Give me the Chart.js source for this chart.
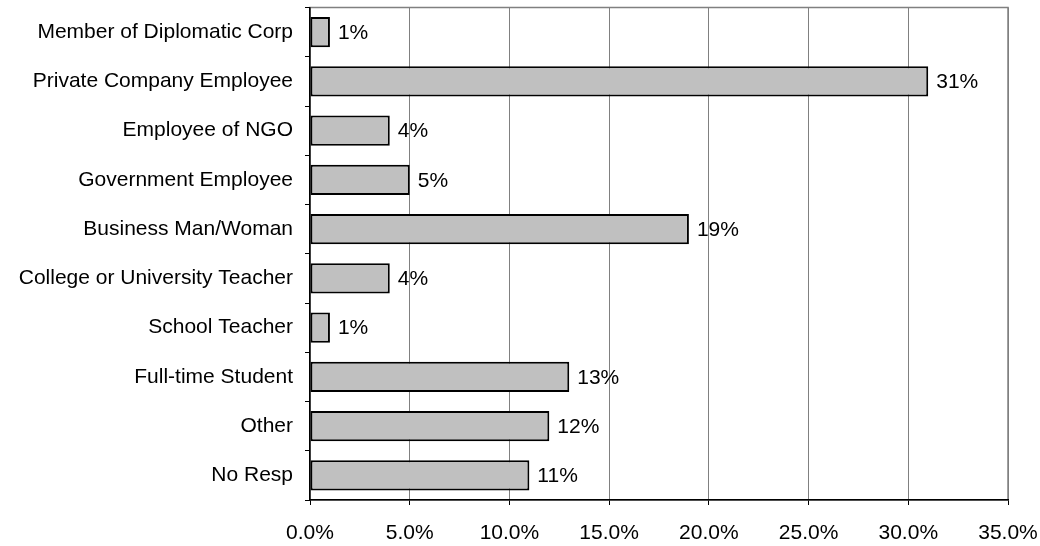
<!DOCTYPE html>
<html>
<head>
<meta charset="utf-8">
<title>Occupation</title>
<script src="https://cdn.jsdelivr.net/npm/chart.js@4"></script>
<style>
    html, body { margin: 0; padding: 0; background: #fff; }
    #wrap { width: 1040px; height: 546px; }
</style>
</head>
<body>
<div id="wrap"><canvas id="occChart" width="1040" height="546"></canvas></div>
<script>
// Chart data
const categories = [
    'Member of Diplomatic Corp',
    'Private Company Employee',
    'Employee of NGO',
    'Government Employee',
    'Business Man/Woman',
    'College or University Teacher',
    'School Teacher',
    'Full-time Student',
    'Other',
    'No Resp'
];
const shares = [1, 31, 4, 5, 19, 4, 1, 13, 12, 11];
const tickLabels = ['0.0%', '5.0%', '10.0%', '15.0%', '20.0%', '25.0%', '30.0%', '35.0%'];

const FONT = "'Liberation Sans', Arial, sans-serif";

// Gray frame round the plot area (top and right edges show)
const frame = {
    id: 'frame',
    beforeDraw(chart) {
        const { ctx, chartArea: a } = chart;
        ctx.save();
        ctx.strokeStyle = '#808080';
        ctx.lineWidth = 1.5;
        ctx.strokeRect(a.left, a.top, a.right - a.left, a.bottom - a.top);
        ctx.restore();
    }
};

// Value labels at bar ends
const valueLabels = {
    id: 'valueLabels',
    afterDatasetsDraw(chart) {
        const { ctx } = chart;
        const meta = chart.getDatasetMeta(0);
        ctx.save();
        ctx.font = '21px ' + FONT;
        ctx.fillStyle = '#000';
        ctx.textAlign = 'left';
        ctx.textBaseline = 'middle';
        meta.data.forEach((bar, i) => {
            ctx.fillText(shares[i] + '%', bar.x + 8, bar.y + 1);
        });
        ctx.restore();
    }
};

new Chart(document.getElementById('occChart').getContext('2d'), {
    type: 'bar',
    data: {
        labels: categories,
        datasets: [{
            data: shares,
            backgroundColor: '#c0c0c0',
            borderColor: '#000',
            borderWidth: 2,
            borderSkipped: false,
            barPercentage: 0.61,
            categoryPercentage: 1
        }]
    },
    options: {
        indexAxis: 'y',
        responsive: false,
        animation: false,
        layout: { padding: { top: 7.5, right: 32, left: 0, bottom: 0 } },
        plugins: {
            legend: { display: false },
            tooltip: { enabled: false }
        },
        scales: {
            x: {
                min: 0,
                max: 35,
                afterFit(scale) {
                    scale.height = 46;
                    scale.paddingLeft = 0;
                    scale.paddingRight = 0;
                },
                ticks: {
                    stepSize: 5,
                    color: '#000',
                    padding: 16,
                    font: { family: FONT, size: 21 },
                    maxRotation: 0,
                    callback: (v, i) => tickLabels[i]
                },
                grid: {
                    color: '#808080',
                    tickColor: '#000',
                    tickLength: 5,
                    lineWidth: 1
                },
                border: { color: '#000', width: 1.5 }
            },
            y: {
                afterFit(scale) {
                    scale.width = 310;
                    scale.paddingTop = 0;
                    scale.paddingBottom = 0;
                },
                ticks: {
                    color: '#000',
                    padding: 12,
                    font: { family: FONT, size: 21 }
                },
                grid: {
                    drawOnChartArea: false,
                    color: '#000',
                    tickLength: 5
                },
                border: { color: '#000', width: 1.5 }
            }
        }
    },
    plugins: [frame, valueLabels]
});
</script>
</body>
</html>
